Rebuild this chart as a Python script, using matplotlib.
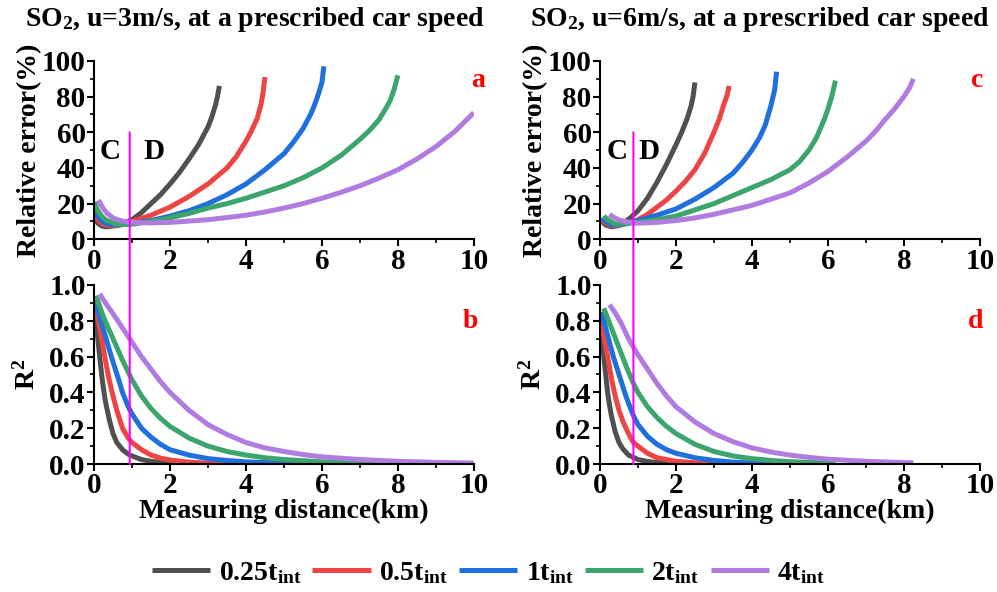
import matplotlib
matplotlib.use('Agg')
import matplotlib.pyplot as plt
from matplotlib.patches import ConnectionPatch
from matplotlib.ticker import MultipleLocator

plt.rcParams['font.family'] = ['Liberation Serif', 'DejaVu Serif']
plt.rcParams['font.weight'] = 'bold'
plt.rcParams['axes.labelweight'] = 'bold'
plt.rcParams['axes.titleweight'] = 'bold'
plt.rcParams['mathtext.fontset'] = 'custom'
plt.rcParams['mathtext.rm'] = 'Liberation Serif:bold'
plt.rcParams['mathtext.it'] = 'Liberation Serif:bold'
plt.rcParams['mathtext.bf'] = 'Liberation Serif:bold'

labels = ['0.25t$_{int}$', '0.5t$_{int}$', '1t$_{int}$', '2t$_{int}$', '4t$_{int}$']
colors = ['#505050', '#EE4444', '#1F6FDC', '#3BA56C', '#B07CE0']

# panel a: relative error (%), u=3m/s
a_x = [
    [0.02, 0.05, 0.1, 0.2, 0.3, 0.45, 0.6, 0.8, 1, 1.25, 1.5, 1.75, 2, 2.25, 2.5, 2.75, 3, 3.1, 3.2, 3.25, 3.3],
    [0.02, 0.05, 0.1, 0.2, 0.3, 0.45, 0.6, 0.8, 1, 1.5, 2, 2.5, 3, 3.5, 3.75, 4, 4.15, 4.3, 4.4, 4.45, 4.5],
    [0.02, 0.05, 0.1, 0.2, 0.3, 0.45, 0.6, 0.8, 1, 1.5, 2, 2.5, 3, 3.5, 4, 4.5, 5, 5.25, 5.5, 5.7, 5.8, 5.9, 6, 6.05],
    [0.02, 0.05, 0.1, 0.2, 0.3, 0.45, 0.6, 0.8, 1, 1.5, 2, 2.5, 3, 3.5, 4, 4.5, 5, 5.5, 6, 6.5, 7, 7.25, 7.5, 7.7, 7.8, 7.9, 8],
    [0.12, 0.18, 0.25, 0.35, 0.5, 0.65, 0.8, 1, 1.5, 2, 2.5, 3, 3.5, 4, 4.5, 5, 5.5, 6, 6.5, 7, 7.5, 8, 8.5, 9, 9.5, 10],
]
a_y = [
    [13, 11, 9, 7.5, 7, 7.2, 8, 9.3, 11, 15, 20, 25, 31, 37.5, 45, 53, 63, 68.5, 75.5, 80, 86],
    [17, 14, 11, 9, 8, 7.6, 7.6, 8.6, 10, 13.5, 18, 24, 31, 40, 46.5, 55, 61, 68, 76, 82, 91],
    [18, 15.5, 13, 10.5, 9, 8.3, 8, 8.3, 9, 10.5, 13, 16, 20, 25, 31, 39, 48, 54.5, 62, 70, 75, 81, 88, 97],
    [21, 18.5, 16, 13, 11, 9.5, 8.5, 8.3, 8.5, 10, 12, 14.5, 17.5, 20, 23, 26.5, 30, 34.5, 40, 47, 56, 61, 67, 74, 78, 84, 92],
    [22, 19.5, 17, 14.5, 12, 10.8, 10, 9.5, 9.2, 9.5, 10.2, 11, 12.2, 13.5, 15.3, 17.5, 20, 23, 26.3, 30, 34.3, 39, 45, 52, 60.5, 71],
]

# panel c: relative error (%), u=6m/s
c_x = [
    [0.05, 0.15, 0.3, 0.45, 0.6, 0.8, 1, 1.25, 1.5, 1.75, 2, 2.15, 2.3, 2.4, 2.45, 2.5],
    [0.05, 0.15, 0.3, 0.5, 0.8, 1, 1.25, 1.5, 1.75, 2, 2.25, 2.5, 2.75, 3, 3.15, 3.25, 3.35, 3.4],
    [0.05, 0.15, 0.3, 0.5, 0.75, 1, 1.5, 2, 2.5, 3, 3.5, 3.75, 4, 4.2, 4.35, 4.5, 4.6, 4.65],
    [0.1, 0.2, 0.4, 0.7, 1, 1.5, 2, 2.5, 3, 3.5, 4, 4.5, 5, 5.25, 5.5, 5.7, 5.8, 5.9, 6, 6.1, 6.2],
    [0.25, 0.35, 0.5, 0.7, 1, 1.5, 2, 2.5, 3, 3.5, 4, 4.5, 5, 5.5, 6, 6.5, 7, 7.25, 7.5, 7.75, 8, 8.15, 8.25],
]
c_y = [
    [10, 8, 7, 7.5, 9, 12, 16, 23, 32, 42, 53, 60, 68, 75, 80, 88],
    [11, 9, 7.5, 7.8, 9.5, 11, 14, 18, 22, 27, 32.5, 39, 48, 60, 68, 75, 81, 86],
    [12, 10, 8, 8, 9, 10.5, 13.5, 17, 22.5, 29, 37, 43, 50, 57, 64, 75, 84, 94],
    [13, 11, 8.5, 8.8, 9.5, 11, 13, 16.5, 20, 24.5, 29, 33.5, 39, 43.5, 50, 57, 62, 67, 73, 80, 89],
    [14, 12.5, 10.8, 9.8, 9, 9.5, 10.5, 12, 14, 16.5, 19, 22.5, 26, 31.5, 38, 46, 55, 60.5, 67, 73, 80, 85, 90],
]

# panel b: R2, u=3m/s
b_x = [
    [0, 0.05, 0.1, 0.15, 0.2, 0.25, 0.3, 0.4, 0.5, 0.6, 0.75, 0.9, 1, 1.25, 1.5, 2, 2.5, 3],
    [0, 0.1, 0.2, 0.3, 0.4, 0.5, 0.6, 0.75, 0.9, 1, 1.25, 1.5, 1.75, 2, 2.5, 3, 3.5, 4.5],
    [0.05, 0.15, 0.25, 0.4, 0.5, 0.65, 0.75, 0.9, 1, 1.25, 1.5, 1.75, 2, 2.5, 3, 3.5, 4, 5, 6],
    [0.05, 0.25, 0.5, 0.75, 1, 1.25, 1.5, 1.75, 2, 2.5, 3, 3.5, 4, 4.5, 5, 6, 7, 8],
    [0.15, 0.3, 0.5, 0.75, 1, 1.25, 1.5, 1.75, 2, 2.5, 3, 3.5, 4, 4.5, 5, 5.5, 6, 7, 8, 9, 10],
]
b_y = [
    [0.92, 0.8, 0.7, 0.6, 0.5, 0.42, 0.35, 0.25, 0.17, 0.12, 0.08, 0.055, 0.045, 0.025, 0.015, 0.005, 0.002, 0],
    [0.93, 0.82, 0.7, 0.58, 0.47, 0.38, 0.3, 0.2, 0.145, 0.12, 0.08, 0.05, 0.033, 0.022, 0.01, 0.005, 0.002, 0],
    [0.9, 0.82, 0.75, 0.64, 0.57, 0.47, 0.4, 0.32, 0.28, 0.2, 0.15, 0.11, 0.08, 0.05, 0.03, 0.02, 0.012, 0.005, 0],
    [0.94, 0.82, 0.7, 0.58, 0.47, 0.38, 0.31, 0.255, 0.21, 0.145, 0.1, 0.07, 0.05, 0.035, 0.025, 0.012, 0.005, 0.001],
    [0.95, 0.9, 0.84, 0.76, 0.68, 0.6, 0.53, 0.46, 0.40, 0.3, 0.22, 0.165, 0.12, 0.09, 0.07, 0.053, 0.04, 0.025, 0.015, 0.009, 0.005],
]

# panel d: R2, u=6m/s
d_x = [
    [0.02, 0.05, 0.1, 0.15, 0.2, 0.25, 0.3, 0.4, 0.5, 0.6, 0.75, 1, 1.25, 1.5, 2, 2.5],
    [0.02, 0.1, 0.2, 0.3, 0.4, 0.5, 0.6, 0.75, 0.88, 1, 1.25, 1.5, 2, 2.5, 3, 3.4],
    [0.05, 0.15, 0.25, 0.35, 0.5, 0.65, 0.75, 0.88, 1, 1.25, 1.5, 1.75, 2, 2.5, 3, 3.5, 4, 4.6],
    [0.1, 0.3, 0.5, 0.7, 0.88, 1, 1.25, 1.5, 1.75, 2, 2.5, 3, 3.5, 4, 4.5, 5, 6, 6.2],
    [0.25, 0.4, 0.55, 0.75, 1, 1.25, 1.5, 1.75, 2, 2.5, 3, 3.5, 4, 4.5, 5, 5.5, 6, 7, 8, 8.25],
]
d_y = [
    [0.82, 0.72, 0.6, 0.5, 0.4, 0.33, 0.27, 0.18, 0.12, 0.085, 0.05, 0.025, 0.014, 0.008, 0.002, 0],
    [0.84, 0.72, 0.6, 0.48, 0.38, 0.3, 0.24, 0.17, 0.12, 0.1, 0.06, 0.035, 0.015, 0.007, 0.003, 0],
    [0.85, 0.76, 0.68, 0.6, 0.5, 0.4, 0.34, 0.27, 0.22, 0.155, 0.11, 0.08, 0.06, 0.035, 0.02, 0.011, 0.006, 0.002],
    [0.87, 0.76, 0.65, 0.54, 0.45, 0.4, 0.32, 0.26, 0.21, 0.17, 0.11, 0.07, 0.045, 0.03, 0.02, 0.013, 0.005, 0.004],
    [0.89, 0.845, 0.79, 0.7, 0.61, 0.53, 0.45, 0.38, 0.32, 0.235, 0.17, 0.125, 0.09, 0.067, 0.05, 0.037, 0.027, 0.015, 0.008, 0.007],
]

titles = ['SO$_2$, u=3m/s, at a prescribed car speed',
          'SO$_2$, u=6m/s, at a prescribed car speed']
title_x = [0.256, 0.762]
cd_line = [0.94, 0.88]       # C/D boundary (km)
cd_text = [(0.42, 1.58), (0.44, 1.30)]
tag_x = [(10.1, 9.91), (9.92, 9.89)]


def style_axis(ax, top):
    ax.set_xlim(0, 10)
    ax.xaxis.set_major_locator(MultipleLocator(2))
    ax.xaxis.set_minor_locator(MultipleLocator(1))
    if top:
        ax.set_ylim(0, 100)
        ax.yaxis.set_major_locator(MultipleLocator(20))
        ax.yaxis.set_minor_locator(MultipleLocator(10))
    else:
        ax.set_ylim(0, 1)
        ax.yaxis.set_major_locator(MultipleLocator(0.2))
        ax.yaxis.set_minor_locator(MultipleLocator(0.1))
        ax.yaxis.set_major_formatter(plt.FormatStrFormatter('%.1f'))
    for s in ['top', 'right']:
        ax.spines[s].set_visible(False)
    for s in ['left', 'bottom']:
        ax.spines[s].set_linewidth(1.5)
    ax.tick_params(which='major', direction='out', length=5, width=1.5,
                   labelsize=21, pad=1)
    ax.tick_params(which='minor', direction='out', length=3, width=1.2)


fig = plt.figure(figsize=(9.97, 5.92), dpi=100)
lefts = [0.0943, 0.6018]
panels = [(a_x, a_y, b_x, b_y, 'a', 'b'), (c_x, c_y, d_x, d_y, 'c', 'd')]

for i, (tx, ty, bx, by, lt, lb) in enumerate(panels):
    ax1 = fig.add_axes([lefts[i], 0.5958, 0.381, 0.3012])
    ax2 = fig.add_axes([lefts[i], 0.2162, 0.381, 0.3024])
    for k in range(5):
        ax1.plot(tx[k], ty[k], color=colors[k], lw=3.6, solid_capstyle='butt',
                 solid_joinstyle='round', label=labels[k])
        ax2.plot(bx[k], by[k], color=colors[k], lw=3.6, solid_capstyle='butt',
                 solid_joinstyle='round')
    style_axis(ax1, True)
    style_axis(ax2, False)
    fig.text(title_x[i], 1 - 20 / 592, titles[i], fontsize=20,
             ha='center', va='center')
    ax1.set_ylabel('Relative error(%)', fontsize=20, labelpad=0)
    ax2.set_ylabel('R$^2$', fontsize=20, labelpad=6)
    ax2.set_xlabel('Measuring distance(km)', fontsize=20, labelpad=0)
    ax1.text(tag_x[i][0], 89, lt, color='red', fontsize=20, ha='center', va='center')
    ax2.text(tag_x[i][1], 0.795, lb, color='red', fontsize=20, ha='center', va='center')
    ax1.text(cd_text[i][0], 49, 'C', fontsize=21, ha='center', va='center')
    ax1.text(cd_text[i][1], 49, 'D', fontsize=21, ha='center', va='center')
    con = ConnectionPatch(xyA=(cd_line[i], 60), coordsA=ax1.transData,
                          xyB=(cd_line[i], 0), coordsB=ax2.transData,
                          color='#FF00FF', lw=1.5, zorder=5)
    fig.add_artist(con)
    if i == 0:
        handles, hl = ax1.get_legend_handles_labels()

fig.legend(handles, hl, loc='center', bbox_to_anchor=(0.49, 0.032), ncol=5,
           frameon=False, fontsize=20, handlelength=2.1, columnspacing=0.4,
           handletextpad=0.3)

fig.savefig('out.png', dpi=100)
